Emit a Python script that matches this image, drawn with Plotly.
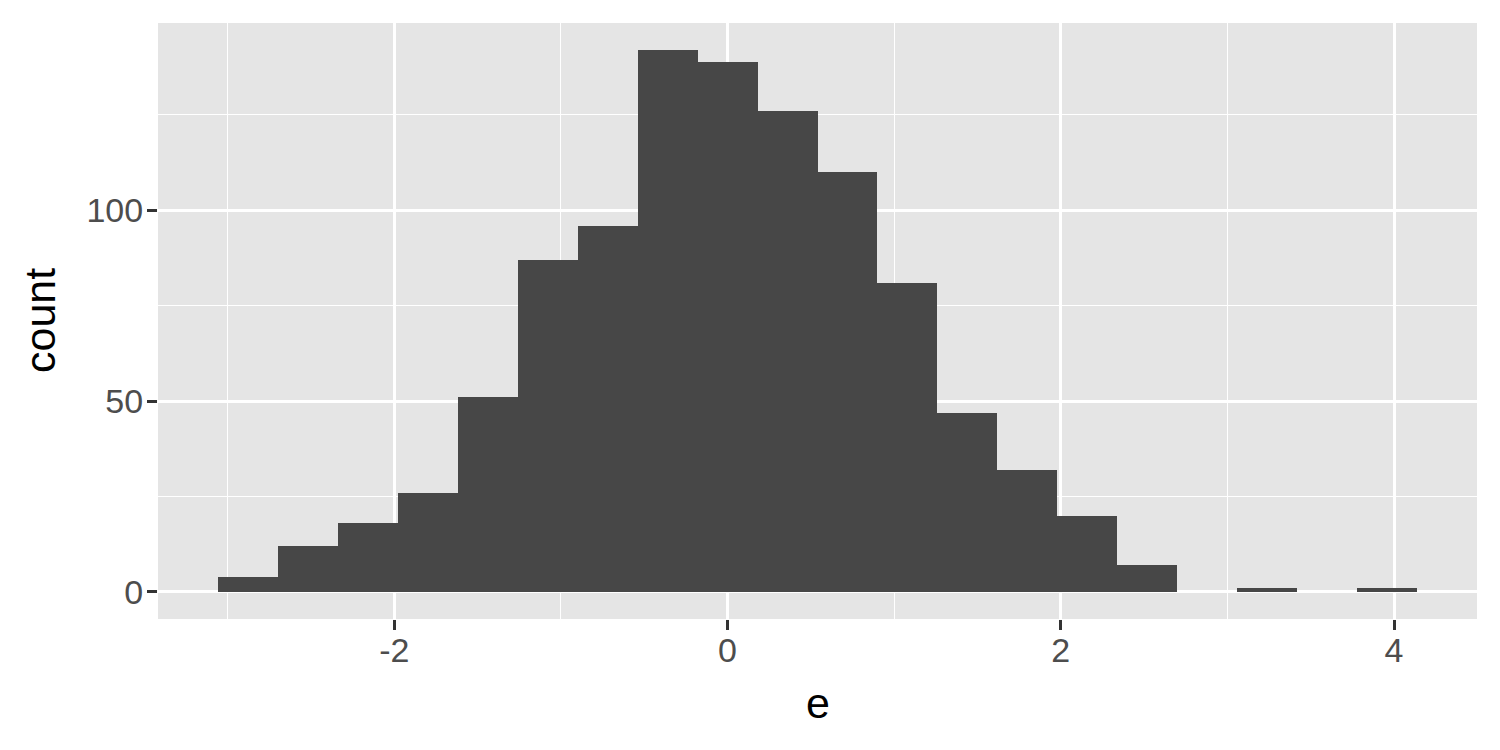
import plotly.graph_objects as go

# Histogram data
bin_start = -3.058
bin_width = 0.3598
counts = [4, 12, 18, 26, 51, 87, 96, 142, 139, 126, 110, 81, 47, 32, 20, 7, 0, 1, 0, 1]
x_ticks = [-2, 0, 2, 4]
y_ticks = [0, 50, 100]
x_title = "e"
y_title = "count"

centers = [bin_start + bin_width * (i + 0.5) for i in range(len(counts))]

fig = go.Figure(go.Bar(
    x=centers, y=counts, width=[bin_width] * len(counts),
    marker=dict(color="#474747", line=dict(width=0)),
    hoverinfo="x+y",
))

x_lo = bin_start
x_hi = bin_start + bin_width * len(counts)
x_pad = (x_hi - x_lo) * 0.05
y_max = max(counts)
y_pad = y_max * 0.05

FONT = "Liberation Sans, Arial, Helvetica, sans-serif"
axis_common = dict(
    showline=False, zeroline=False,
    showgrid=True, gridcolor="white", gridwidth=2.7,
    ticks="outside", ticklen=10, tickwidth=2.7, tickcolor="#333333",
    tickfont=dict(family=FONT, size=34, color="#4d4d4d"),
)

fig.update_xaxes(
    **axis_common,
    range=[x_lo - x_pad, x_hi + x_pad],
    tickvals=x_ticks, ticktext=[str(v) for v in x_ticks],
    minor=dict(dtick=1, tick0=-3, showgrid=True, gridcolor="white", gridwidth=1.4, ticks=""),
    ticklabelstandoff=-9,
)
fig.update_yaxes(
    **axis_common,
    range=[-y_pad, y_max + y_pad],
    tickvals=y_ticks, ticktext=[str(v) for v in y_ticks],
    minor=dict(dtick=25, tick0=0, showgrid=True, gridcolor="white", gridwidth=1.4, ticks=""),
    ticklabelstandoff=-3,
)

fig.add_annotation(text=x_title, xref="paper", yref="paper", x=0.5, y=0,
                   xanchor="center", yanchor="middle", yshift=-84, showarrow=False,
                   font=dict(family=FONT, size=43, color="black"))
fig.add_annotation(text=y_title, xref="paper", yref="paper", x=0, y=0.5,
                   xanchor="center", yanchor="middle", xshift=-118, textangle=-90,
                   showarrow=False, font=dict(family=FONT, size=43, color="black"))

fig.update_layout(
    width=1484, height=734,
    margin=dict(l=150, r=15, t=15, b=123),
    plot_bgcolor="#e5e5e5", paper_bgcolor="white",
    bargap=0, showlegend=False,
    font=dict(family=FONT),
)

fig.write_html("out.html")
